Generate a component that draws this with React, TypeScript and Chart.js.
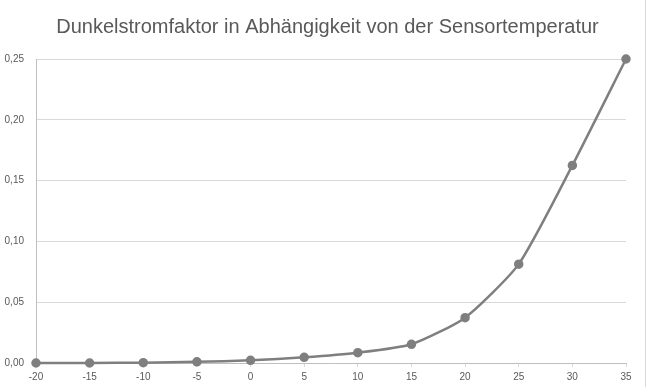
import React, { useEffect, useRef } from "react";
import { Chart, registerables } from "chart.js";

Chart.register(...registerables);

const TITLE = "Dunkelstromfaktor in Abhängigkeit von der Sensortemperatur";
const temperatures = [-20, -15, -10, -5, 0, 5, 10, 15, 20, 25, 30, 35];
const factors = [0.0, 0.0, 0.0003, 0.001, 0.0022, 0.0047, 0.0085, 0.0154, 0.0373, 0.0813, 0.1625, 0.25];
const xTicks = [-20, -15, -10, -5, 0, 5, 10, 15, 20, 25, 30, 35];
const yTicks = [0, 0.05, 0.1, 0.15, 0.2, 0.25];

const FONT = "'Liberation Sans', Arial, sans-serif";

const titlePlugin = {
  id: "customTitle",
  afterDraw(chart: any) {
    const ctx = chart.ctx;
    ctx.save();
    ctx.font = `normal 20px ${FONT}`;
    ctx.fillStyle = "#595959";
    ctx.textAlign = "center";
    ctx.textBaseline = "alphabetic";
    ctx.fillText(TITLE, 327.5, 33);
    ctx.restore();
  },
};

export default function App() {
  const ref = useRef<HTMLCanvasElement | null>(null);
  useEffect(() => {
    if (!ref.current) return;
    const chart = new Chart(ref.current, {
      type: "line",
      data: {
        datasets: [
          {
            data: temperatures.map((t, i) => ({ x: t, y: factors[i] })),
            borderColor: "#7f7f7f",
            backgroundColor: "#7f7f7f",
            borderWidth: 2.5,
            pointRadius: 3.5,
            pointBackgroundColor: "#7f7f7f",
            pointBorderColor: "#7f7f7f",
            tension: 0.2,
            clip: false,
          },
        ],
      },
      plugins: [titlePlugin],
      options: {
        animation: false,
        responsive: true,
        maintainAspectRatio: false,
        layout: { padding: { left: 0, right: 19, top: 59, bottom: 0 } },
        plugins: {
          legend: { display: false },
          tooltip: { enabled: false },
          title: { display: false },
        },
        scales: {
          x: {
            type: "linear",
            min: -20,
            max: 35,
            afterBuildTicks: (s: any) => {
              s.ticks = xTicks.map((v) => ({ value: v }));
            },
            afterFit: (s: any) => {
              s.height = 24;
            },
            grid: {
              drawOnChartArea: false,
              drawTicks: true,
              tickLength: 4,
              color: "#d9d9d9",
            },
            border: { color: "#bfbfbf", width: 1 },
            ticks: {
              color: "#595959",
              font: { family: FONT, size: 10 },
              padding: 4,
              maxRotation: 0,
              callback: (v: any) => String(v),
            },
          },
          y: {
            min: 0,
            max: 0.25,
            afterBuildTicks: (s: any) => {
              s.ticks = yTicks.map((v) => ({ value: v }));
            },
            afterFit: (s: any) => {
              s.width = 36;
            },
            grid: { color: "#d9d9d9", drawTicks: false, lineWidth: 1 },
            border: { color: "#bfbfbf", width: 1 },
            ticks: {
              color: "#595959",
              font: { family: FONT, size: 10 },
              padding: 12,
              callback: (v: any) => Number(v).toFixed(2).replace(".", ","),
            },
          },
        },
      },
    });
    return () => chart.destroy();
  }, []);
  return (
    <div
      style={{
        position: "fixed",
        left: 0,
        top: 0,
        width: 646,
        height: 387,
        boxSizing: "border-box",
        borderRight: "1px solid #d9d9d9",
        background: "#fff",
      }}
    >
      <canvas ref={ref} />
    </div>
  );
}
